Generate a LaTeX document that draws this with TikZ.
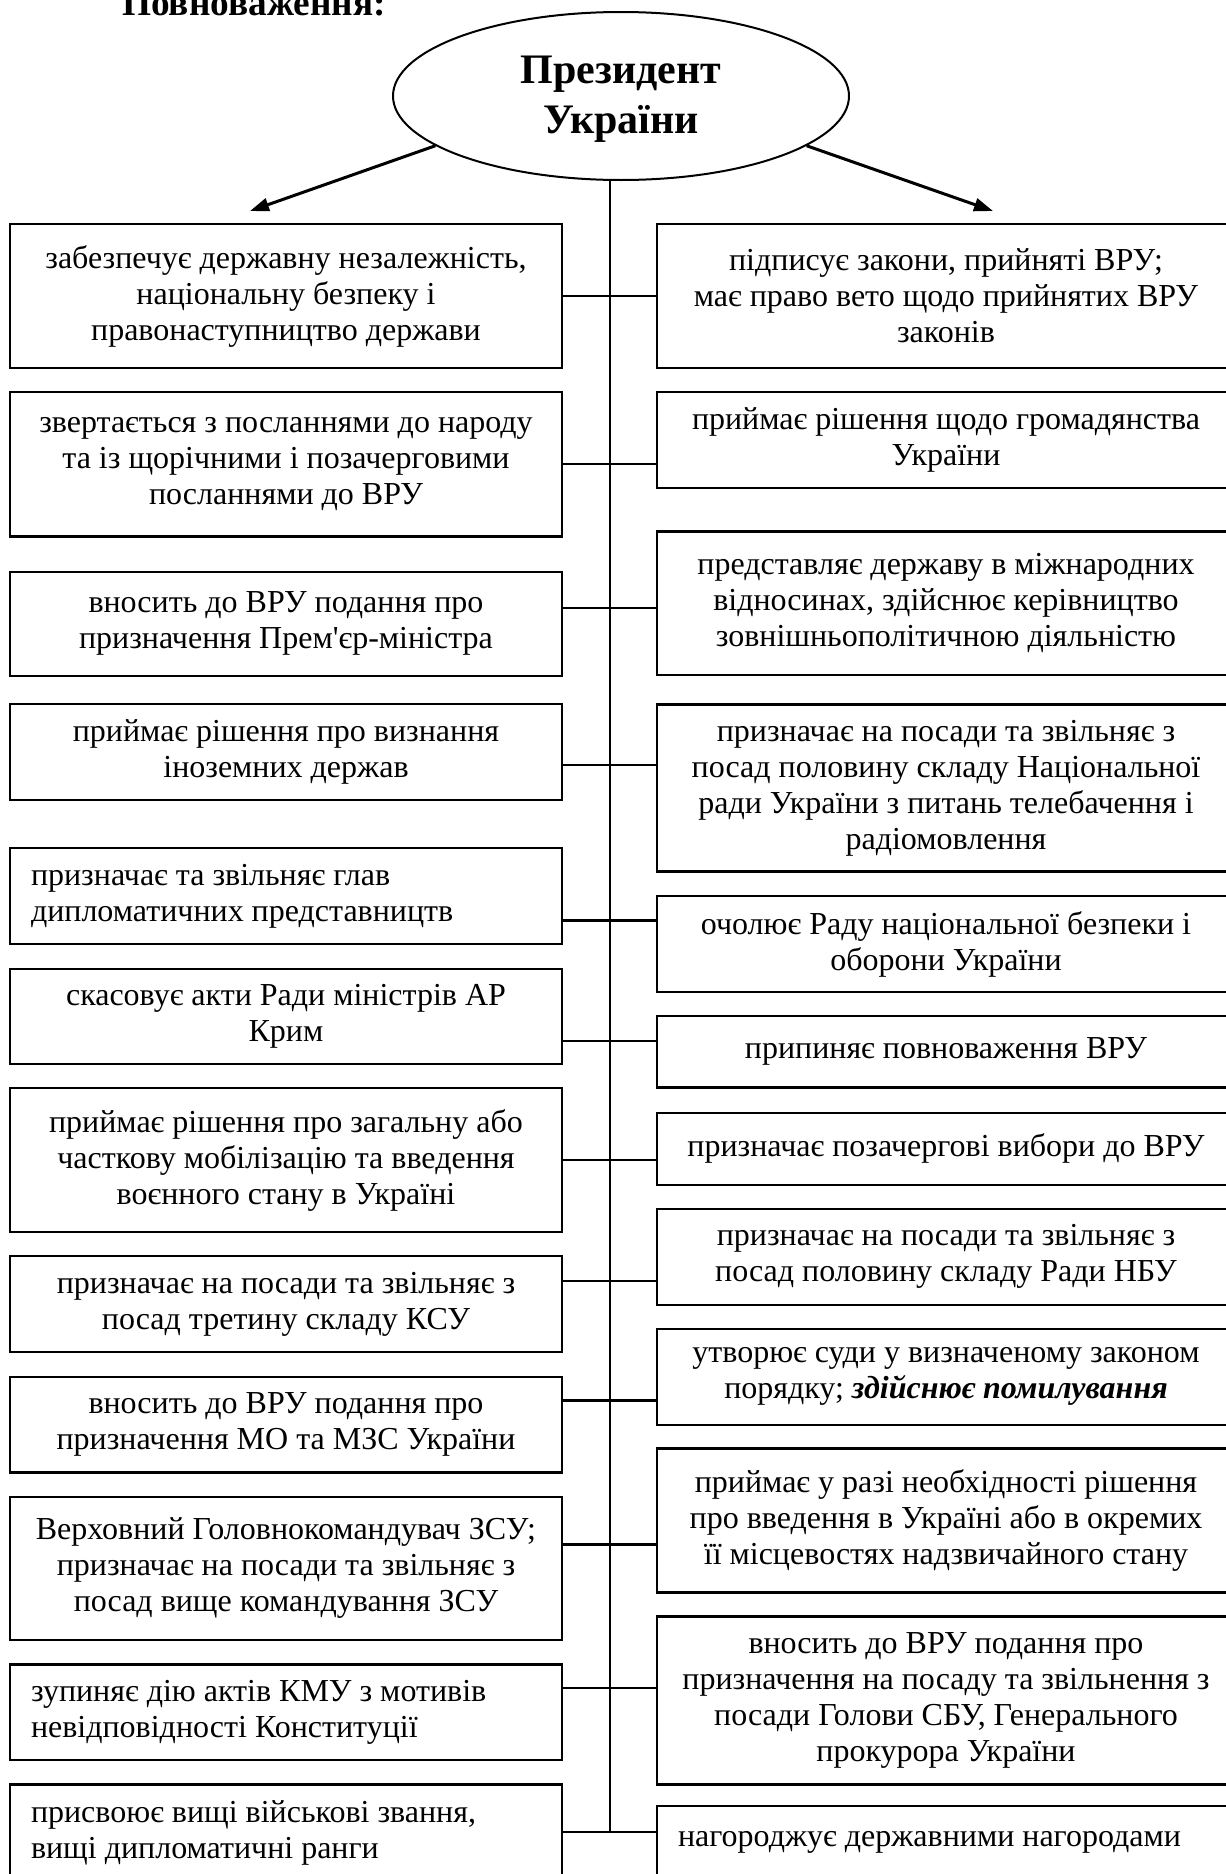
\documentclass[tikz,border=0pt]{standalone}
\usepackage{fontspec}
\setmainfont{Liberation Serif}[Ligatures=TeXOff]
\usetikzlibrary{shapes.geometric,arrows.meta}
\newcommand{\bodyfont}{\fontsize{32}{36}\selectfont}
\newcommand{\presfont}{\bfseries\fontsize{42}{50}\selectfont}
\newcommand{\headfont}{\bfseries\fontsize{37.3}{40}\selectfont}
\begin{document}
\begin{tikzpicture}[x=1pt,y=-1pt,
  box/.style={draw, line width=2.2pt, inner sep=0pt, font=\bodyfont},
  lbox/.style={box, minimum width=552pt, align=center},
  lboxl/.style={box, minimum width=552pt, text width=510pt, align=flush left},
  rbox/.style={box, minimum width=578pt, align=center},
  rboxl/.style={box, minimum width=578pt, text width=536pt, align=flush left},
  conn/.style={line width=2.2pt},
  trunk/.style={line width=1.8pt},
  arr/.style={line width=3pt, -{Triangle[length=19pt,width=13pt]}}]
\useasboundingbox (0,0) rectangle (1226,1874);

\node[anchor=base west, inner sep=0pt, font=\headfont] (ttl) at (122,15) {Повноваження:};

\node[ellipse, draw, line width=2pt, minimum width=456pt, minimum height=168pt,
      inner sep=0pt, align=center, font=\presfont] (pres) at (621,96) {\rule{0pt}{34pt}Президент\\України};

\coordinate (la) at (250,211);
\coordinate (ra) at (993,211);
\draw[arr] (pres.195) -- (la);
\draw[arr] (pres.345) -- (ra);

% left column
\node[lbox, minimum height=143.6pt] (L1) at (286,296.1) {забезпечує державну незалежність,\\національну безпеку і\\правонаступництво держави};
\node[lbox, minimum height=144.3pt] (L2) at (286,464.25) {звертається з посланнями до народу\\та із щорічними і позачерговими\\посланнями до ВРУ};
\node[lbox, minimum height=103.6pt] (L3) at (286,623.9) {вносить до ВРУ подання про\\призначення Прем'єр-міністра};
\node[lbox, minimum height=96pt] (L4) at (286,751.6) {приймає рішення про визнання\\іноземних держав};
\node[lboxl, minimum height=95.4pt] (L5) at (286,895.9) {призначає та звільняє глав\\дипломатичних представництв};
\node[lbox, minimum height=95.7pt] (L6) at (286,1016.5) {скасовує акти Ради міністрів АР\\Крим};
\node[lbox, minimum height=143.9pt] (L7) at (286,1160.2) {приймає рішення про загальну або\\часткову мобілізацію та введення\\воєнного стану в Україні};
\node[lbox, minimum height=96pt] (L8) at (286,1304) {призначає на посади та звільняє з\\посад третину складу КСУ};
\node[lbox, minimum height=95.8pt] (L9) at (286,1424.5) {вносить до ВРУ подання про\\призначення МО та МЗС України};
\node[lbox, minimum height=143pt] (L10) at (286,1568.3) {Верховний Головнокомандувач ЗСУ;\\призначає на посади та звільняє з\\посад вище командування ЗСУ};
\node[lboxl, minimum height=95.8pt] (L11) at (286,1712.4) {зупиняє дію актів КМУ з мотивів\\невідповідності Конституції};
\node[lboxl, minimum height=96pt] (L12) at (286,1832.5) {присвоює вищі військові звання,\\вищі дипломатичні ранги};

% right column
\node[rbox, minimum height=143.6pt] (R1) at (946,296.1) {підписує закони, прийняті ВРУ;\\має право вето щодо прийнятих ВРУ\\законів};
\node[rbox, minimum height=96pt] (R2) at (946,440) {приймає рішення щодо громадянства\\України};
\node[rbox, minimum height=143.6pt] (R3) at (946,603.2) {представляє державу в міжнародних\\відносинах, здійснює керівництво\\зовнішньополітичною діяльністю};
\node[rbox, minimum height=167pt] (R4) at (946,787.9) {призначає на посади та звільняє з\\посад половину складу Національної\\ради України з питань телебачення і\\радіомовлення};
\node[rbox, minimum height=96pt] (R5) at (946,944) {очолює Раду національної безпеки і\\оборони України};
\node[rbox, minimum height=71.4pt] (R6) at (946,1051.8) {припиняє повноваження ВРУ};
\node[rbox, minimum height=72pt] (R7) at (946,1148.6) {призначає позачергові вибори до ВРУ};
\node[rbox, minimum height=96pt] (R8) at (946,1256.6) {призначає на посади та звільняє з\\посад половину складу Ради НБУ};
\node[rbox, minimum height=96pt] (R9) at (946,1376.6) {утворює суди у визначеному законом\\порядку; \textbf{\textit{здійснює помилування}}};
\node[rbox, minimum height=144pt] (R10) at (946,1520.5) {приймає у разі необхідності рішення\\про введення в Україні або в окремих\\її місцевостях надзвичайного стану};
\node[rbox, minimum height=168pt] (R11) at (946,1700.5) {вносить до ВРУ подання про\\призначення на посаду та звільнення з\\посади Голови СБУ, Генерального\\прокурора України};
\node[rboxl, minimum height=72pt] (R12) at (946,1842) {нагороджує державними нагородами};

% connectors
\foreach \i/\yy in {1/296,2/464.3,3/608,4/765,5/920.4,6/1040.7,7/1159.6,8/1281,9/1400.5,10/1544.4,11/1688.3,12/1832.3}{
  \coordinate (j\i) at (610,\yy);
  \draw[conn] (L\i.east |- j\i) -- (R\i.west |- j\i);
}
\draw[trunk] (pres.south -| j1) -- (j12);
\end{tikzpicture}
\end{document}
